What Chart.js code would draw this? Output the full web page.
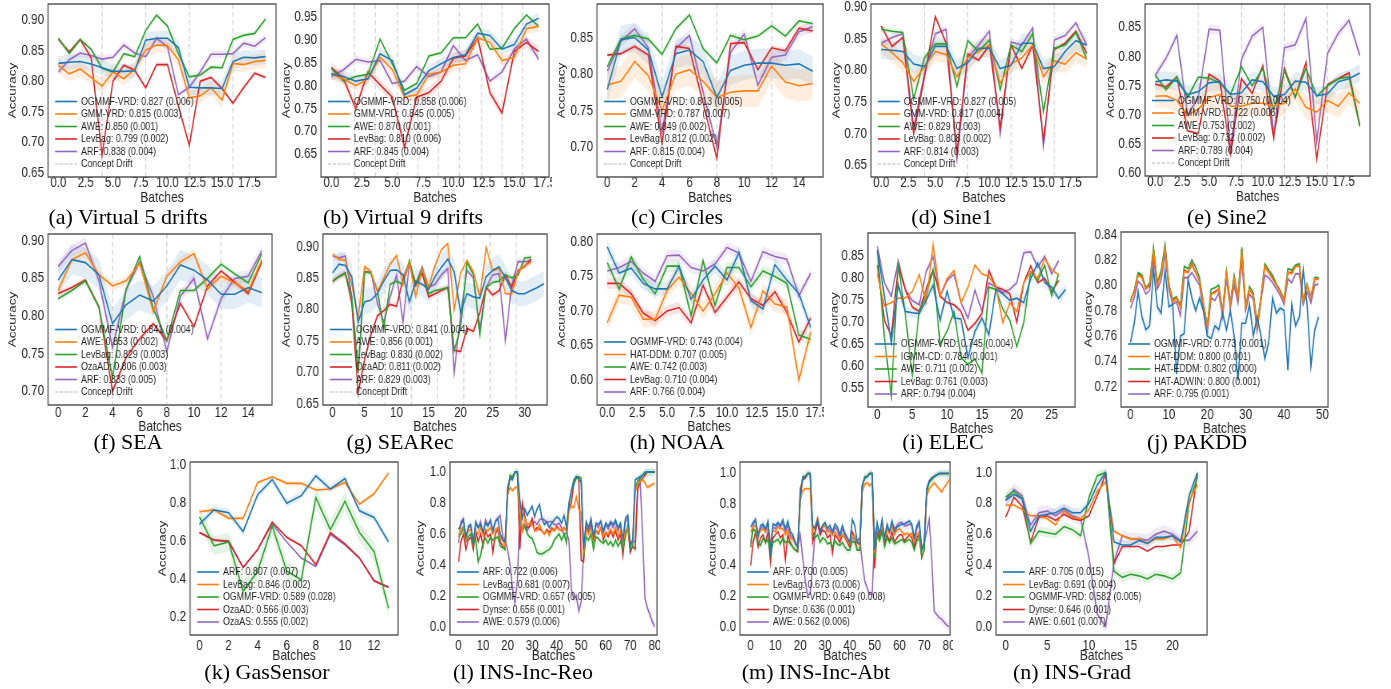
<!DOCTYPE html>
<html>
<head>
<meta charset="utf-8">
<script src="https://cdn.jsdelivr.net/npm/chart.js@4.4.1/dist/chart.umd.min.js"></script>
<style>
  html, body { margin: 0; padding: 0; background: #fff; }
  body { width: 1391px; height: 689px; position: relative; overflow: hidden; }
  .panel { position: absolute; }
  .panel canvas { display: block; }
  .cap { position: absolute; font-family: "Liberation Serif", "Times New Roman", serif; font-size: 22px; line-height: 1; color: #000; white-space: nowrap; transform: translate(-50%, -50%); }
</style>
</head>
<body>
<script>
// ---------- (a) Virtual 5 drifts
const aOGMMF = [0.829, 0.831, 0.832, 0.828, 0.822, 0.816, 0.816, 0.817, 0.867, 0.870, 0.870, 0.855, 0.790, 0.789, 0.789, 0.788, 0.832, 0.839, 0.838, 0.840];
const aGMM = [0.826, 0.812, 0.820, 0.806, 0.792, 0.815, 0.804, 0.820, 0.851, 0.859, 0.858, 0.835, 0.773, 0.776, 0.789, 0.769, 0.829, 0.827, 0.832, 0.834];
const aAWE = [0.870, 0.845, 0.868, 0.852, 0.821, 0.815, 0.845, 0.840, 0.883, 0.908, 0.890, 0.845, 0.807, 0.810, 0.823, 0.822, 0.868, 0.875, 0.878, 0.902];
const aLev = [0.868, 0.848, 0.868, 0.838, 0.679, 0.800, 0.826, 0.818, 0.789, 0.827, 0.827, 0.760, 0.695, 0.800, 0.806, 0.788, 0.764, 0.790, 0.813, 0.806];
const aARF = [0.815, 0.835, 0.846, 0.842, 0.836, 0.839, 0.859, 0.846, 0.840, 0.870, 0.856, 0.778, 0.790, 0.815, 0.844, 0.844, 0.845, 0.862, 0.857, 0.871];
const aNames = ['OGMMF-VRD: 0.827 (0.006)', 'GMM-VRD: 0.815 (0.003)', 'AWE: 0.850 (0.001)', 'LevBag: 0.799 (0.002)', 'ARF: 0.838 (0.004)'];
const aSpread = [0.012, 0.012, 0.004, 0.004, 0.006];
const aDrifts = [4, 8, 12, 16];

// ---------- (b) Virtual 9 drifts
const bOGMMF = [0.826, 0.820, 0.810, 0.815, 0.870, 0.855, 0.780, 0.795, 0.833, 0.848, 0.862, 0.868, 0.915, 0.910, 0.880, 0.890, 0.935, 0.948];
const bGMM = [0.825, 0.815, 0.800, 0.815, 0.862, 0.835, 0.775, 0.780, 0.825, 0.830, 0.845, 0.848, 0.905, 0.895, 0.855, 0.862, 0.925, 0.930];
const bAWE = [0.838, 0.810, 0.820, 0.825, 0.902, 0.848, 0.790, 0.805, 0.865, 0.872, 0.905, 0.905, 0.935, 0.880, 0.882, 0.925, 0.955, 0.930];
const bLev = [0.840, 0.815, 0.750, 0.830, 0.802, 0.775, 0.665, 0.775, 0.785, 0.810, 0.860, 0.865, 0.905, 0.785, 0.740, 0.875, 0.895, 0.875];
const bARF = [0.820, 0.835, 0.858, 0.852, 0.855, 0.805, 0.810, 0.842, 0.820, 0.830, 0.888, 0.855, 0.868, 0.810, 0.830, 0.880, 0.902, 0.858];
const bNames = ['OGMMF-VRD: 0.858 (0.006)', 'GMM-VRD: 0.845 (0.005)', 'AWE: 0.870 (0.001)', 'LevBag: 0.810 (0.006)', 'ARF: 0.845 (0.004)'];
const bSpread = [0.012, 0.012, 0.004, 0.012, 0.008];
const bDrifts = [1.9, 3.6, 5.4, 7.1, 8.8, 10.5, 12.3, 14.0, 15.7];

// ---------- (c) Circles
const cOGMMF = [0.779, 0.847, 0.850, 0.833, 0.769, 0.828, 0.833, 0.817, 0.768, 0.805, 0.812, 0.815, 0.815, 0.812, 0.814, 0.804];
const cGMM = [0.785, 0.790, 0.817, 0.798, 0.750, 0.800, 0.806, 0.790, 0.768, 0.775, 0.777, 0.777, 0.811, 0.789, 0.784, 0.787];
const cAWE = [0.810, 0.848, 0.853, 0.848, 0.827, 0.862, 0.881, 0.835, 0.815, 0.853, 0.847, 0.852, 0.866, 0.852, 0.873, 0.869];
const cLev = [0.826, 0.828, 0.838, 0.826, 0.705, 0.838, 0.835, 0.760, 0.684, 0.842, 0.843, 0.806, 0.836, 0.832, 0.863, 0.859];
const cARF = [0.804, 0.845, 0.862, 0.836, 0.720, 0.835, 0.853, 0.775, 0.700, 0.830, 0.855, 0.785, 0.823, 0.826, 0.858, 0.865];
const cNames = ['OGMMF-VRD: 0.813 (0.005)', 'GMM-VRD: 0.787 (0.007)', 'AWE: 0.849 (0.002)', 'LevBag: 0.812 (0.002)', 'ARF: 0.815 (0.004)'];
const cSpread = [0.02, 0.022, 0.004, 0.004, 0.008];
const cDrifts = [4, 8, 12];

// ---------- (d) Sine1
const dOGMMF = [0.833, 0.832, 0.830, 0.810, 0.806, 0.838, 0.838, 0.803, 0.812, 0.835, 0.835, 0.803, 0.808, 0.843, 0.843, 0.803, 0.806, 0.830, 0.847, 0.840];
const dGMM = [0.842, 0.828, 0.812, 0.783, 0.805, 0.830, 0.825, 0.790, 0.820, 0.830, 0.840, 0.780, 0.810, 0.820, 0.840, 0.790, 0.815, 0.810, 0.828, 0.818];
const dAWE = [0.865, 0.862, 0.860, 0.755, 0.820, 0.842, 0.842, 0.775, 0.847, 0.830, 0.848, 0.770, 0.840, 0.830, 0.858, 0.735, 0.835, 0.840, 0.860, 0.818];
const dLev = [0.870, 0.838, 0.852, 0.700, 0.790, 0.885, 0.843, 0.670, 0.826, 0.816, 0.840, 0.710, 0.840, 0.803, 0.840, 0.690, 0.833, 0.843, 0.862, 0.827];
const dARF = [0.843, 0.852, 0.858, 0.710, 0.795, 0.858, 0.865, 0.660, 0.820, 0.840, 0.862, 0.700, 0.845, 0.840, 0.867, 0.680, 0.848, 0.855, 0.875, 0.840];
const dNames = ['OGMMF-VRD: 0.827 (0.005)', 'GMM-VRD: 0.817 (0.004)', 'AWE: 0.829 (0.003)', 'LevBag: 0.808 (0.002)', 'ARF: 0.814 (0.003)'];
const dSpread = [0.015, 0.015, 0.005, 0.004, 0.006];
const dDrifts = [4, 8, 12, 16];

// ---------- (e) Sine2
const eOGMMF = [0.757, 0.760, 0.758, 0.735, 0.740, 0.755, 0.757, 0.735, 0.738, 0.760, 0.757, 0.732, 0.735, 0.758, 0.756, 0.733, 0.736, 0.757, 0.762, 0.772];
const eGMM = [0.732, 0.733, 0.725, 0.700, 0.710, 0.730, 0.735, 0.715, 0.715, 0.720, 0.720, 0.715, 0.720, 0.745, 0.713, 0.705, 0.725, 0.715, 0.738, 0.720];
const eAWE = [0.768, 0.743, 0.765, 0.730, 0.765, 0.763, 0.755, 0.735, 0.783, 0.750, 0.780, 0.708, 0.775, 0.730, 0.780, 0.732, 0.750, 0.762, 0.765, 0.680];
const eLev = [0.753, 0.748, 0.765, 0.673, 0.668, 0.770, 0.758, 0.632, 0.762, 0.737, 0.785, 0.660, 0.780, 0.730, 0.790, 0.625, 0.752, 0.762, 0.772, 0.683];
const eARF = [0.768, 0.797, 0.836, 0.700, 0.730, 0.847, 0.845, 0.640, 0.795, 0.835, 0.850, 0.665, 0.815, 0.820, 0.865, 0.655, 0.805, 0.840, 0.862, 0.802];
const eNames = ['OGMMF-VRD: 0.750 (0.004)', 'GMM-VRD: 0.722 (0.006)', 'AWE: 0.753 (0.002)', 'LevBag: 0.732 (0.002)', 'ARF: 0.789 (0.004)'];
const eSpread = [0.015, 0.02, 0.004, 0.004, 0.008];
const eDrifts = [4, 8, 12, 16];

// ---------- (f) SEA
const fOGMMF = [0.848, 0.875, 0.871, 0.855, 0.790, 0.815, 0.828, 0.820, 0.840, 0.868, 0.861, 0.848, 0.829, 0.829, 0.838, 0.831];
const fAWE = [0.834, 0.875, 0.884, 0.855, 0.840, 0.847, 0.870, 0.806, 0.853, 0.872, 0.883, 0.836, 0.853, 0.844, 0.833, 0.875];
const fLev = [0.823, 0.834, 0.847, 0.812, 0.718, 0.835, 0.879, 0.810, 0.768, 0.834, 0.834, 0.850, 0.869, 0.856, 0.844, 0.883];
const fOza = [0.830, 0.838, 0.848, 0.812, 0.700, 0.745, 0.770, 0.790, 0.767, 0.817, 0.786, 0.840, 0.860, 0.845, 0.830, 0.872];
const fARF = [0.866, 0.887, 0.897, 0.847, 0.758, 0.835, 0.872, 0.826, 0.753, 0.826, 0.850, 0.770, 0.823, 0.850, 0.853, 0.887];
const fNames = ['OGMMF-VRD: 0.841 (0.004)', 'AWE: 0.853 (0.002)', 'LevBag: 0.829 (0.003)', 'OzaAD: 0.806 (0.003)', 'ARF: 0.833 (0.005)'];
const fSpread = [0.02, 0.006, 0.004, 0.004, 0.008];
const fDrifts = [4, 8, 12];

// ---------- (g) SEARec
const gOGMMF = [0.858, 0.872, 0.870, 0.852, 0.780, 0.812, 0.815, 0.825, 0.845, 0.862, 0.863, 0.855, 0.812, 0.845, 0.840, 0.832, 0.852, 0.867, 0.880, 0.860, 0.795, 0.825, 0.820, 0.818, 0.852, 0.862, 0.868, 0.850, 0.830, 0.825, 0.825, 0.830, 0.835, 0.841];
const gAWE = [0.888, 0.880, 0.878, 0.840, 0.788, 0.868, 0.860, 0.828, 0.850, 0.872, 0.886, 0.840, 0.875, 0.820, 0.865, 0.835, 0.870, 0.895, 0.905, 0.800, 0.858, 0.878, 0.860, 0.820, 0.898, 0.862, 0.865, 0.825, 0.825, 0.860, 0.870, 0.875];
const gLev = [0.845, 0.852, 0.858, 0.820, 0.700, 0.860, 0.858, 0.830, 0.770, 0.840, 0.845, 0.840, 0.878, 0.840, 0.865, 0.825, 0.830, 0.832, 0.835, 0.735, 0.770, 0.875, 0.855, 0.760, 0.835, 0.843, 0.845, 0.855, 0.850, 0.855, 0.882, 0.883];
const gOza = [0.845, 0.852, 0.858, 0.810, 0.668, 0.720, 0.760, 0.790, 0.798, 0.808, 0.805, 0.848, 0.875, 0.838, 0.858, 0.820, 0.825, 0.830, 0.835, 0.735, 0.733, 0.770, 0.765, 0.795, 0.835, 0.823, 0.830, 0.855, 0.835, 0.862, 0.868, 0.880];
const gARF = [0.885, 0.882, 0.885, 0.820, 0.700, 0.860, 0.860, 0.810, 0.780, 0.820, 0.855, 0.780, 0.872, 0.840, 0.868, 0.835, 0.840, 0.855, 0.865, 0.700, 0.790, 0.862, 0.850, 0.770, 0.835, 0.855, 0.857, 0.750, 0.840, 0.876, 0.876, 0.877];
const gNames = ['OGMMF-VRD: 0.841 (0.004)', 'AWE: 0.856 (0.001)', 'LevBag: 0.830 (0.002)', 'OzaAD: 0.811 (0.002)', 'ARF: 0.829 (0.003)'];
const gSpread = [0.02, 0.003, 0.004, 0.006, 0.006];
const gDrifts = [4.1, 8.2, 12.3, 16.4, 20.5, 24.6, 28.7];

// ---------- (h) NOAA
const hOGMMF = [0.793, 0.755, 0.762, 0.740, 0.732, 0.732, 0.765, 0.717, 0.745, 0.765, 0.745, 0.785, 0.715, 0.703, 0.767, 0.745, 0.725, 0.676];
const hHAT = [0.683, 0.723, 0.720, 0.688, 0.688, 0.730, 0.749, 0.725, 0.700, 0.725, 0.755, 0.733, 0.676, 0.729, 0.710, 0.706, 0.600, 0.670];
const hAWE = [0.770, 0.732, 0.778, 0.746, 0.725, 0.765, 0.765, 0.693, 0.773, 0.708, 0.763, 0.763, 0.735, 0.758, 0.750, 0.740, 0.665, 0.659];
const hLev = [0.740, 0.740, 0.725, 0.697, 0.686, 0.700, 0.705, 0.683, 0.737, 0.698, 0.720, 0.742, 0.718, 0.708, 0.728, 0.698, 0.655, 0.690];
const hARF = [0.758, 0.763, 0.772, 0.755, 0.743, 0.780, 0.781, 0.763, 0.758, 0.768, 0.792, 0.784, 0.743, 0.786, 0.779, 0.775, 0.722, 0.755];
const hNames = ['OGMMF-VRD: 0.743 (0.004)', 'HAT-DDM: 0.707 (0.005)', 'AWE: 0.742 (0.003)', 'LevBag: 0.710 (0.004)', 'ARF: 0.766 (0.004)'];
const hSpread = [0.01, 0.012, 0.008, 0.008, 0.008];

// ---------- (i) ELEC
const iOGMMF = [0.865, 0.760, 0.655, 0.785, 0.725, 0.722, 0.720, 0.750, 0.785, 0.705, 0.770, 0.710, 0.708, 0.620, 0.680, 0.710, 0.672, 0.775, 0.765, 0.750, 0.755, 0.745, 0.800, 0.835, 0.790, 0.780, 0.755, 0.775];
const iIGMM = [0.810, 0.738, 0.745, 0.755, 0.755, 0.770, 0.808, 0.745, 0.878, 0.760, 0.800, 0.818, 0.745, 0.780, 0.830, 0.810, 0.805, 0.780, 0.700, 0.745, 0.725, 0.790, 0.815, 0.800, 0.845, 0.820, 0.808];
const iAWE = [0.862, 0.665, 0.535, 0.830, 0.720, 0.580, 0.725, 0.760, 0.820, 0.650, 0.680, 0.725, 0.620, 0.605, 0.617, 0.585, 0.780, 0.775, 0.730, 0.705, 0.645, 0.700, 0.815, 0.795, 0.830, 0.760, 0.810];
const iLev = [0.830, 0.705, 0.670, 0.830, 0.775, 0.735, 0.725, 0.775, 0.820, 0.760, 0.745, 0.740, 0.725, 0.682, 0.698, 0.720, 0.818, 0.780, 0.775, 0.765, 0.700, 0.790, 0.828, 0.790, 0.800, 0.770, 0.795];
const iARF = [0.873, 0.790, 0.760, 0.840, 0.775, 0.750, 0.740, 0.815, 0.850, 0.760, 0.795, 0.810, 0.745, 0.710, 0.773, 0.725, 0.790, 0.780, 0.768, 0.775, 0.790, 0.858, 0.860, 0.825, 0.850, 0.810, 0.840];
const iNames = ['OGMMF-VRD: 0.745 (0.004)', 'IGMM-CD: 0.784 (0.001)', 'AWE: 0.711 (0.002)', 'LevBag: 0.761 (0.003)', 'ARF: 0.794 (0.004)'];
const iSpread = [0.012, 0.003, 0.005, 0.006, 0.008];

// ---------- (j) PAKDD
const jOGMMF = [0.755, 0.770, 0.795, 0.775, 0.765, 0.768, 0.813, 0.783, 0.778, 0.812,
  0.783, 0.785, 0.730, 0.760, 0.762, 0.805, 0.790, 0.780, 0.790, 0.780,
  0.760, 0.758, 0.768, 0.765, 0.778, 0.765, 0.780, 0.760, 0.725, 0.770,
  0.770, 0.785, 0.760, 0.775, 0.760, 0.742, 0.755, 0.790, 0.778, 0.782,
  0.780, 0.733, 0.785, 0.768, 0.775, 0.812, 0.785, 0.736, 0.765, 0.775];
const jDDM = [0.787, 0.795, 0.808, 0.806, 0.797, 0.801, 0.827, 0.800, 0.809, 0.829,
  0.800, 0.787, 0.790, 0.782, 0.811, 0.810, 0.816, 0.810, 0.803, 0.785,
  0.767, 0.793, 0.794, 0.797, 0.778, 0.809, 0.785, 0.806, 0.790, 0.827,
  0.782, 0.797, 0.792, 0.768, 0.790, 0.815, 0.810, 0.805, 0.800, 0.795,
  0.788, 0.810, 0.809, 0.815, 0.815, 0.787, 0.800, 0.790, 0.805, 0.805];
const jEDDM = [0.788, 0.796, 0.810, 0.808, 0.798, 0.802, 0.830, 0.802, 0.812, 0.832,
  0.801, 0.789, 0.791, 0.784, 0.815, 0.813, 0.820, 0.814, 0.806, 0.786,
  0.768, 0.797, 0.798, 0.800, 0.779, 0.811, 0.786, 0.808, 0.791, 0.830,
  0.783, 0.799, 0.794, 0.769, 0.791, 0.817, 0.812, 0.808, 0.801, 0.796,
  0.789, 0.813, 0.812, 0.816, 0.817, 0.788, 0.801, 0.791, 0.806, 0.806];
const jADWIN = [0.787, 0.795, 0.809, 0.806, 0.797, 0.800, 0.828, 0.800, 0.810, 0.830,
  0.800, 0.787, 0.790, 0.783, 0.812, 0.810, 0.817, 0.810, 0.803, 0.785,
  0.767, 0.793, 0.795, 0.797, 0.778, 0.810, 0.785, 0.806, 0.790, 0.828,
  0.782, 0.797, 0.792, 0.768, 0.790, 0.815, 0.810, 0.806, 0.800, 0.795,
  0.788, 0.810, 0.810, 0.815, 0.815, 0.787, 0.800, 0.790, 0.805, 0.805];
const jARF = [0.782, 0.790, 0.803, 0.800, 0.793, 0.796, 0.822, 0.797, 0.804, 0.825,
  0.797, 0.785, 0.787, 0.776, 0.806, 0.806, 0.810, 0.805, 0.800, 0.780,
  0.762, 0.790, 0.788, 0.794, 0.775, 0.805, 0.782, 0.800, 0.786, 0.820,
  0.780, 0.793, 0.789, 0.764, 0.788, 0.808, 0.806, 0.802, 0.797, 0.792,
  0.785, 0.805, 0.802, 0.809, 0.809, 0.785, 0.795, 0.786, 0.800, 0.801];
const jNames = ['OGMMF-VRD: 0.773 (0.001)', 'HAT-DDM: 0.800 (0.001)', 'HAT-EDDM: 0.802 (0.000)', 'HAT-ADWIN: 0.800 (0.001)', 'ARF: 0.795 (0.001)'];
const jSpread = [0.004, 0.0015, 0.0015, 0.0015, 0.0015];

// ---------- (k) GasSensor
const kARF = [0.690, 0.765, 0.750, 0.650, 0.845, 0.925, 0.800, 0.840, 0.945, 0.875, 0.930, 0.760, 0.725, 0.595];
const kLev = [0.755, 0.765, 0.720, 0.720, 0.910, 0.940, 0.905, 0.905, 0.870, 0.875, 0.910, 0.795, 0.850, 0.960];
const kOGMMF = [0.728, 0.575, 0.595, 0.335, 0.440, 0.680, 0.440, 0.395, 0.830, 0.660, 0.810, 0.645, 0.545, 0.245];
const kOzaAD = [0.645, 0.605, 0.600, 0.460, 0.555, 0.700, 0.620, 0.575, 0.475, 0.645, 0.585, 0.510, 0.390, 0.355];
const kOzaAS = [0.645, 0.605, 0.595, 0.460, 0.555, 0.690, 0.595, 0.510, 0.465, 0.635, 0.580, 0.510, 0.390, 0.355];
const kNames = ['ARF: 0.807 (0.007)', 'LevBag: 0.846 (0.002)', 'OGMMF-VRD: 0.589 (0.028)', 'OzaAD: 0.566 (0.003)', 'OzaAS: 0.555 (0.002)'];
const kSpread = [0.02, 0.012, 0.05, 0.008, 0.006];

// ---------- (l) INS-Inc-Reo
const lARF = [0.63, 0.66, 0.69, 0.58, 0.65, 0.66, 0.55, 0.68, 0.64, 0.66, 0.61, 0.67, 0.65, 0.69, 0.62, 0.68, 0.70, 0.60, 0.56, 0.55,
  0.88, 0.96, 0.95, 1.00, 1.00,
  0.82, 0.70, 0.76, 0.72, 0.75, 0.78, 0.71, 0.76, 0.79, 0.70, 0.66, 0.68, 0.64, 0.67, 0.69, 0.71, 0.70, 0.67, 0.72, 0.64,
  0.80, 0.88, 0.95, 0.97, 0.96, 0.93, 0.50,
  0.68, 0.64, 0.70, 0.58, 0.67, 0.66, 0.68, 0.62, 0.67, 0.65, 0.68, 0.66, 0.69, 0.64, 0.67, 0.56, 0.70, 0.72, 0.52, 0.56,
  0.95, 0.96, 0.97, 0.98, 1.00, 1.00, 1.00, 1.00, 1.00];
const lLev = [0.59, 0.63, 0.65, 0.56, 0.62, 0.63, 0.55, 0.62, 0.60, 0.64, 0.59, 0.63, 0.62, 0.64, 0.60, 0.63, 0.64, 0.57, 0.56, 0.52,
  0.85, 0.90, 0.88, 0.90, 0.90,
  0.75, 0.62, 0.70, 0.66, 0.67, 0.66, 0.63, 0.62, 0.66, 0.62, 0.60, 0.62, 0.59, 0.63, 0.62, 0.64, 0.63, 0.62, 0.64, 0.62,
  0.75, 0.78, 0.77, 0.84, 0.76, 0.74, 0.47,
  0.63, 0.60, 0.64, 0.56, 0.62, 0.61, 0.64, 0.58, 0.61, 0.60, 0.63, 0.60, 0.64, 0.58, 0.62, 0.54, 0.62, 0.64, 0.55, 0.55,
  0.87, 0.92, 0.94, 0.95, 0.93, 0.90, 0.91, 0.92, 0.93];
const lOGMMF = [0.58, 0.60, 0.64, 0.55, 0.58, 0.60, 0.53, 0.57, 0.42, 0.46, 0.55, 0.57, 0.54, 0.58, 0.56, 0.57, 0.58, 0.52, 0.51, 0.50,
  0.86, 0.98, 0.97, 1.00, 1.00,
  0.72, 0.62, 0.65, 0.60, 0.58, 0.57, 0.53, 0.48, 0.47, 0.47, 0.48, 0.49, 0.50, 0.52, 0.56, 0.58, 0.60, 0.56, 0.60, 0.54,
  0.78, 0.88, 0.92, 0.96, 0.97, 0.96, 0.45,
  0.58, 0.56, 0.60, 0.50, 0.58, 0.57, 0.55, 0.54, 0.56, 0.53, 0.55, 0.52, 0.56, 0.52, 0.55, 0.50, 0.58, 0.66, 0.50, 0.52,
  0.90, 0.94, 0.96, 0.98, 0.99, 1.00, 1.00, 1.00, 1.00];
const lDynse = [0.42, 0.55, 0.60, 0.50, 0.56, 0.58, 0.50, 0.62, 0.55, 0.60, 0.52, 0.62, 0.58, 0.60, 0.48, 0.60, 0.63, 0.55, 0.52, 0.50,
  0.90, 0.96, 0.97, 1.00, 1.00,
  0.50, 0.80, 0.72, 0.64, 0.65, 0.70, 0.62, 0.64, 0.63, 0.62, 0.60, 0.63, 0.61, 0.64, 0.62, 0.65, 0.63, 0.62, 0.64, 0.62,
  0.77, 0.80, 0.93, 0.97, 0.96, 0.43, 0.42,
  0.64, 0.60, 0.65, 0.55, 0.62, 0.60, 0.64, 0.56, 0.61, 0.58, 0.62, 0.58, 0.62, 0.56, 0.60, 0.46, 0.62, 0.64, 0.48, 0.52,
  0.50, 0.88, 0.94, 0.96, 0.98, 1.00, 1.00, 1.00, 1.00];
const lAWE = [0.54, 0.68, 0.70, 0.56, 0.64, 0.65, 0.54, 0.67, 0.64, 0.68, 0.60, 0.69, 0.66, 0.68, 0.62, 0.68, 0.70, 0.72, 0.58, 0.56,
  0.50, 0.40, 0.25, 0.15, 0.30,
  0.75, 0.62, 0.66, 0.62, 0.65, 0.67, 0.68, 0.66, 0.69, 0.70, 0.69, 0.67, 0.68, 0.68, 0.66, 0.66, 0.67, 0.64, 0.59, 0.61,
  0.56, 0.24, 0.18, 0.20, 0.10, 0.16, 0.50,
  0.65, 0.62, 0.68, 0.58, 0.66, 0.64, 0.68, 0.60, 0.66, 0.63, 0.67, 0.64, 0.68, 0.62, 0.66, 0.55, 0.68, 0.70, 0.52, 0.55,
  0.55, 0.90, 0.95, 0.60, 0.18, 0.12, 0.08, 0.03, 0.00];
const lNames = ['ARF: 0.722 (0.006)', 'LevBag: 0.681 (0.007)', 'OGMMF-VRD: 0.657 (0.005)', 'Dynse: 0.656 (0.001)', 'AWE: 0.579 (0.006)'];
const lSpread = [0.02, 0.02, 0.025, 0.005, 0.03];

// ---------- (m) INS-Inc-Abt
const mARF = [0.65, 0.68, 0.70, 0.60, 0.66, 0.67, 0.64, 0.69, 0.50, 0.67, 0.66, 0.68, 0.66, 0.70, 0.64, 0.69, 0.62, 0.60, 0.55, 0.52,
  0.86, 0.97, 0.98, 1.00, 1.00,
  0.66, 0.64, 0.70, 0.62, 0.66, 0.68, 0.64, 0.66, 0.62, 0.67, 0.65, 0.60, 0.66, 0.61, 0.58, 0.55, 0.70, 0.66, 0.55, 0.54,
  0.92, 0.97, 0.98, 1.00, 1.00, 0.50,
  0.68, 0.60, 0.70, 0.58, 0.67, 0.62, 0.69, 0.62, 0.65, 0.66, 0.67, 0.67, 0.68, 0.69, 0.67, 0.58, 0.66, 0.69, 0.50, 0.55,
  0.90, 0.95, 0.97, 0.98, 0.99, 1.00, 1.00, 1.00, 1.00, 1.00];
const mLev = [0.62, 0.65, 0.66, 0.60, 0.63, 0.64, 0.62, 0.64, 0.53, 0.63, 0.62, 0.65, 0.64, 0.64, 0.60, 0.63, 0.58, 0.57, 0.55, 0.52,
  0.82, 0.89, 0.90, 0.90, 0.90,
  0.62, 0.66, 0.71, 0.63, 0.65, 0.66, 0.62, 0.62, 0.60, 0.62, 0.60, 0.58, 0.60, 0.58, 0.56, 0.54, 0.60, 0.58, 0.55, 0.53,
  0.88, 0.93, 0.94, 0.92, 0.94, 0.48,
  0.64, 0.60, 0.66, 0.57, 0.63, 0.61, 0.66, 0.60, 0.63, 0.64, 0.62, 0.60, 0.61, 0.60, 0.61, 0.56, 0.60, 0.62, 0.50, 0.55,
  0.85, 0.90, 0.92, 0.94, 0.92, 0.90, 0.88, 0.91, 0.93, 0.96];
const mOGMMF = [0.52, 0.64, 0.62, 0.55, 0.53, 0.58, 0.55, 0.57, 0.47, 0.55, 0.56, 0.57, 0.54, 0.58, 0.55, 0.56, 0.54, 0.52, 0.50, 0.50,
  0.82, 0.98, 0.98, 1.00, 1.00,
  0.62, 0.58, 0.60, 0.55, 0.58, 0.57, 0.54, 0.55, 0.52, 0.56, 0.54, 0.53, 0.55, 0.52, 0.50, 0.50, 0.56, 0.55, 0.50, 0.50,
  0.92, 0.98, 0.98, 1.00, 1.00, 0.45,
  0.60, 0.56, 0.62, 0.52, 0.58, 0.55, 0.58, 0.54, 0.55, 0.56, 0.57, 0.55, 0.56, 0.57, 0.55, 0.50, 0.56, 0.58, 0.46, 0.50,
  0.88, 0.94, 0.96, 0.98, 0.99, 1.00, 1.00, 1.00, 1.00, 1.00];
const mDynse = [0.40, 0.55, 0.62, 0.52, 0.58, 0.60, 0.55, 0.62, 0.42, 0.58, 0.60, 0.62, 0.58, 0.60, 0.44, 0.60, 0.55, 0.52, 0.50, 0.49,
  0.90, 0.96, 0.97, 1.00, 1.00,
  0.55, 0.62, 0.68, 0.60, 0.63, 0.62, 0.58, 0.60, 0.48, 0.60, 0.58, 0.55, 0.60, 0.58, 0.55, 0.52, 0.62, 0.58, 0.50, 0.50,
  0.92, 0.97, 0.98, 1.00, 1.00, 0.38,
  0.62, 0.58, 0.64, 0.54, 0.60, 0.56, 0.62, 0.55, 0.58, 0.60, 0.60, 0.56, 0.58, 0.60, 0.58, 0.52, 0.58, 0.60, 0.45, 0.50,
  0.90, 0.95, 0.97, 0.98, 0.99, 1.00, 1.00, 1.00, 1.00, 1.00];
const mAWE = [0.54, 0.66, 0.70, 0.58, 0.64, 0.66, 0.62, 0.68, 0.52, 0.65, 0.64, 0.67, 0.65, 0.68, 0.62, 0.66, 0.60, 0.58, 0.54, 0.52,
  0.60, 0.45, 0.30, 0.20, 0.22,
  0.40, 0.62, 0.68, 0.60, 0.65, 0.66, 0.62, 0.64, 0.60, 0.65, 0.63, 0.58, 0.64, 0.60, 0.57, 0.55, 0.58, 0.57, 0.56, 0.58,
  0.42, 0.30, 0.25, 0.21, 0.21, 0.60,
  0.66, 0.60, 0.68, 0.57, 0.65, 0.62, 0.68, 0.64, 0.66, 0.68, 0.68, 0.66, 0.66, 0.67, 0.66, 0.56, 0.64, 0.67, 0.50, 0.55,
  0.62, 0.70, 0.45, 0.10, 0.08, 0.06, 0.05, 0.03, 0.01, 0.00];
const mNames = ['ARF: 0.700 (0.005)', 'LevBag: 0.673 (0.006)', 'OGMMF-VRD: 0.649 (0.008)', 'Dynse: 0.636 (0.001)', 'AWE: 0.562 (0.006)'];
const mSpread = [0.02, 0.02, 0.025, 0.005, 0.03];

// ---------- (n) INS-Grad
const nARF = [0.82, 0.86, 0.83, 0.62, 0.72, 0.73, 0.74, 0.77, 0.74, 0.74, 0.80, 0.92, 1.00, 0.55, 0.53, 0.53, 0.56, 0.54, 0.58, 0.58, 0.59, 0.55, 0.85, 1.00];
const nLev = [0.79, 0.79, 0.76, 0.72, 0.72, 0.70, 0.66, 0.75, 0.71, 0.70, 0.76, 0.88, 0.94, 0.62, 0.59, 0.57, 0.57, 0.54, 0.57, 0.57, 0.59, 0.51, 0.82, 0.92];
const nOGMMF = [0.84, 0.88, 0.83, 0.54, 0.62, 0.61, 0.60, 0.65, 0.63, 0.59, 0.84, 0.98, 1.00, 0.36, 0.32, 0.34, 0.33, 0.31, 0.34, 0.33, 0.31, 0.35, 0.80, 0.97];
const nDynse = [0.71, 0.84, 0.78, 0.55, 0.71, 0.72, 0.69, 0.73, 0.70, 0.69, 0.72, 0.85, 0.99, 0.41, 0.52, 0.52, 0.52, 0.49, 0.52, 0.52, 0.53, 0.53, 0.62, 0.99];
const nAWE = [0.82, 0.89, 0.85, 0.66, 0.74, 0.75, 0.72, 0.76, 0.72, 0.70, 0.45, 0.08, 0.00, 0.42, 0.59, 0.57, 0.57, 0.56, 0.60, 0.62, 0.60, 0.56, 0.56, 0.62];
const nNames = ['ARF: 0.705 (0.015)', 'LevBag: 0.691 (0.004)', 'OGMMF-VRD: 0.582 (0.005)', 'Dynse: 0.646 (0.001)', 'AWE: 0.601 (0.007)'];
const nSpread = [0.03, 0.012, 0.03, 0.005, 0.04];

// ---------- tick labels
const ticksStep25 = [0, 2.5, 5, 7.5, 10, 12.5, 15, 17.5];
const ticksEven14 = [0, 2, 4, 6, 8, 10, 12, 14];
const ticksEven12 = [0, 2, 4, 6, 8, 10, 12];
const ticksSEARec = [0, 5, 10, 15, 20, 25, 30];
const ticksELEC = [0, 5, 10, 15, 20, 25];
const ticksPAKDD = [0, 10, 20, 30, 40, 50];
const ticksINSInc = [0, 10, 20, 30, 40, 50, 60, 70, 80];
const ticksINSGrad = [0, 5, 10, 15, 20];
const accA = [0.65, 0.70, 0.75, 0.80, 0.85, 0.90];
const accB = [0.65, 0.70, 0.75, 0.80, 0.85, 0.90, 0.95];
const accC = [0.70, 0.75, 0.80, 0.85];
const accE = [0.60, 0.65, 0.70, 0.75, 0.80, 0.85];
const accF = [0.70, 0.75, 0.80, 0.85, 0.90];
const accH = [0.60, 0.65, 0.70, 0.75, 0.80];
const accI = [0.55, 0.60, 0.65, 0.70, 0.75, 0.80, 0.85];
const accJ = [0.72, 0.74, 0.76, 0.78, 0.80, 0.82, 0.84];
const accK = [0.2, 0.4, 0.6, 0.8, 1.0];
const accINS = [0.0, 0.2, 0.4, 0.6, 0.8, 1.0];

const COLORS = ['#1f77b4', '#ff7f0e', '#2ca02c', '#d62728', '#9467bd'];
const TXT = '#262626';
const SANS = '"Liberation Sans", Arial, sans-serif';
Chart.defaults.font.family = SANS;
Chart.defaults.color = TXT;

// the source figure is squeezed horizontally; each canvas is drawn wider and shown at SX
const SX = 0.8;

// box = [left, top, right, bottom] of each plot frame in page pixels
const PANELS = [
  { cap: '(a) Virtual 5 drifts', capX: 128, capY: 217, box: [48, 4, 276, 177], gap: 35, row: 0, xr: [-0.95, 19.95], yr: [0.6435, 0.926], series: [aOGMMF, aGMM, aAWE, aLev, aARF], names: aNames, spread: aSpread, drifts: aDrifts, xt: ticksStep25, yt: accA, xdec: 1, ydec: 2 },
  { cap: '(b) Virtual 9 drifts', capX: 403, capY: 217, box: [321, 4, 549, 177], gap: 34, row: 0, xr: [-0.85, 17.85], yr: [0.60, 0.979], series: [bOGMMF, bGMM, bAWE, bLev, bARF], names: bNames, spread: bSpread, drifts: bDrifts, xt: ticksStep25, yt: accB, xdec: 1, ydec: 2 },
  { cap: '(c) Circles', capX: 677, capY: 217, box: [597, 4, 823, 177], gap: 35, row: 0, xr: [-0.75, 15.75], yr: [0.659, 0.896], series: [cOGMMF, cGMM, cAWE, cLev, cARF], names: cNames, spread: cSpread, drifts: cDrifts, xt: ticksEven14, yt: accC, xdec: 0, ydec: 2 },
  { cap: '(d) Sine1', capX: 952, capY: 217, box: [871, 4, 1097, 177], gap: 34, row: 0, xr: [-0.95, 19.95], yr: [0.6315, 0.905], series: [dOGMMF, dGMM, dAWE, dLev, dARF], names: dNames, spread: dSpread, drifts: dDrifts, xt: ticksStep25, yt: accA, xdec: 1, ydec: 2 },
  { cap: '(e) Sine2', capX: 1227, capY: 217, box: [1145, 4, 1370, 176], gap: 34, row: 0, xr: [-0.95, 19.95], yr: [0.5955, 0.89], series: [eOGMMF, eGMM, eAWE, eLev, eARF], names: eNames, spread: eSpread, drifts: eDrifts, xt: ticksStep25, yt: accE, xdec: 1, ydec: 2 },
  { cap: '(f) SEA', capX: 128, capY: 442, box: [48, 234, 272, 405], gap: 35, row: 1, xr: [-0.75, 15.75], yr: [0.682, 0.909], series: [fOGMMF, fAWE, fLev, fOza, fARF], names: fNames, spread: fSpread, drifts: fDrifts, xt: ticksEven14, yt: accF, xdec: 0, ydec: 2 },
  { cap: '(g) SEARec', capX: 400, capY: 442, box: [323, 234, 547, 405], gap: 36, row: 1, xr: [-1.5, 33.5], yr: [0.648, 0.92], series: [gOGMMF, gAWE, gLev, gOza, gARF], names: gNames, spread: gSpread, drifts: gDrifts, xt: ticksSEARec, yt: accA, xdec: 0, ydec: 2 },
  { cap: '(h) NOAA', capX: 677, capY: 442, box: [597, 234, 821, 405], gap: 35, row: 1, xr: [-0.85, 17.85], yr: [0.5637, 0.8116], series: [hOGMMF, hHAT, hAWE, hLev, hARF], names: hNames, spread: hSpread, drifts: null, xt: ticksStep25, yt: accH, xdec: 1, ydec: 2 },
  { cap: '(i) ELEC', capX: 943, capY: 442, box: [868, 233, 1075, 407], gap: 33, row: 1, xr: [-1.35, 28.35], yr: [0.508, 0.903], series: [iOGMMF, iIGMM, iAWE, iLev, iARF], names: iNames, spread: iSpread, drifts: null, xt: ticksELEC, yt: accI, xdec: 0, ydec: 2 },
  { cap: '(j) PAKDD', capX: 1197, capY: 442, box: [1121, 232, 1328, 407], gap: 32, row: 1, xr: [-2.45, 51.45], yr: [0.704, 0.842], series: [jOGMMF, jDDM, jEDDM, jADWIN, jARF], names: jNames, spread: jSpread, drifts: null, xt: ticksPAKDD, yt: accJ, xdec: 0, ydec: 2 },
  { cap: '(k) GasSensor', capX: 267, capY: 672, box: [190, 462, 398, 635], gap: 27, row: 2, xr: [-0.65, 13.65], yr: [0.103, 1.018], series: [kARF, kLev, kOGMMF, kOzaAD, kOzaAS], names: kNames, spread: kSpread, drifts: null, xt: ticksEven12, yt: accK, xdec: 0, ydec: 1 },
  { cap: '(l) INS-Inc-Reo', capX: 523, capY: 672, box: [450, 462, 657, 635], gap: 29, row: 2, xr: [-3.5, 80.9], yr: [-0.054, 1.065], series: [lARF, lLev, lOGMMF, lDynse, lAWE], names: lNames, spread: lSpread, drifts: null, xt: ticksINSInc, yt: accINS, xdec: 0, ydec: 1 },
  { cap: '(m) INS-Inc-Abt', capX: 816, capY: 672, box: [740, 462, 950, 635], gap: 27, row: 2, xr: [-4.3, 80.4], yr: [-0.054, 1.075], series: [mARF, mLev, mOGMMF, mDynse, mAWE], names: mNames, spread: mSpread, drifts: null, xt: ticksINSInc, yt: accINS, xdec: 0, ydec: 1 },
  { cap: '(n) INS-Grad', capX: 1072, capY: 672, box: [996, 462, 1207, 635], gap: 26, row: 2, xr: [-1.15, 24.15], yr: [-0.054, 1.069], series: [nARF, nLev, nOGMMF, nDynse, nAWE], names: nNames, spread: nSpread, drifts: null, xt: ticksINSGrad, yt: accINS, xdec: 0, ydec: 1 }
];

// per row: x-axis block height and tick label padding
const ROW_XH = [30, 31, 30];
const ROW_TPAD = [-3.2, -0.7, 2];

function rgba(hex, a) {
  const n = parseInt(hex.slice(1), 16);
  return `rgba(${n >> 16}, ${(n >> 8) & 255}, ${n & 255}, ${a})`;
}

function makeDecor(p) {
  return {
    id: 'decor',
    beforeDatasetsDraw(chart) {
      const { ctx, chartArea: a } = chart;
      const x = chart.scales.x, y = chart.scales.y;
      ctx.save();
      ctx.beginPath();
      ctx.rect(a.left, a.top, a.right - a.left, a.bottom - a.top);
      ctx.clip();
      // shaded std bands
      p.series.forEach((vals, k) => {
        const s = p.spread[k];
        ctx.beginPath();
        vals.forEach((v, i) => {
          const px = x.getPixelForValue(i), py = y.getPixelForValue(v + s);
          if (i === 0) ctx.moveTo(px, py); else ctx.lineTo(px, py);
        });
        for (let i = vals.length - 1; i >= 0; i--) {
          ctx.lineTo(x.getPixelForValue(i), y.getPixelForValue(vals[i] - s));
        }
        ctx.closePath();
        ctx.fillStyle = rgba(COLORS[k], 0.13);
        ctx.fill();
      });
      // concept drift markers
      ctx.strokeStyle = '#d0d0d0';
      ctx.lineWidth = 1.3;
      ctx.setLineDash([5, 3]);
      (p.drifts || []).forEach(v => {
        const px = x.getPixelForValue(v);
        ctx.beginPath();
        ctx.moveTo(px, a.top);
        ctx.lineTo(px, a.bottom);
        ctx.stroke();
      });
      ctx.restore();
    },
    afterDraw(chart) {
      const { ctx, chartArea: a } = chart;
      ctx.save();
      const rows = p.names.map((n, k) => ({ text: n, color: COLORS[k], dash: false }));
      if (p.drifts) rows.push({ text: 'Concept Drift', color: '#d0d0d0', dash: true });
      ctx.font = `11px ${SANS}`;
      ctx.textBaseline = 'middle';
      ctx.fillStyle = TXT;
      rows.forEach((row, i) => {
        const yy = a.bottom - 13 - (rows.length - 1 - i) * 12.5;
        ctx.strokeStyle = row.color;
        ctx.lineWidth = 1.6;
        ctx.setLineDash(row.dash ? [4, 2] : []);
        ctx.beginPath();
        ctx.moveTo(a.left + 7 / SX, yy);
        ctx.lineTo(a.left + 29 / SX, yy);
        ctx.stroke();
        ctx.fillText(row.text, a.left + 33 / SX, yy);
      });
      ctx.setLineDash([]);
      ctx.strokeStyle = '#555';
      ctx.lineWidth = 1.5;
      ctx.strokeRect(a.left, a.top, a.right - a.left, a.bottom - a.top);
      ctx.restore();
    }
  };
}

function drawPanel(p) {
  const [l, t, r, b] = p.box;
  const YW = p.gap + 11, PT = 3, PR = 3, XH = ROW_XH[p.row];
  const Wi = Math.round((YW + (r - l) + PR) / SX);
  const H = PT + (b - t) + XH;

  const wrap = document.createElement('div');
  wrap.className = 'panel';
  Object.assign(wrap.style, { left: (l - YW) + 'px', top: (t - PT) + 'px', width: (Wi * SX) + 'px', height: H + 'px' });
  const cv = document.createElement('canvas');
  cv.width = Wi; cv.height = H;
  cv.style.width = (Wi * SX) + 'px'; cv.style.height = H + 'px';
  wrap.appendChild(cv);
  document.body.appendChild(wrap);

  const cap = document.createElement('div');
  cap.className = 'cap';
  cap.textContent = p.cap;
  cap.style.left = p.capX + 'px';
  cap.style.top = p.capY + 'px';
  document.body.appendChild(cap);

  const datasets = p.series.map((vals, k) => ({
    label: p.names[k],
    data: vals.map((v, i) => ({ x: i, y: v })),
    borderColor: COLORS[k],
    backgroundColor: COLORS[k],
    borderWidth: 1.6,
    pointRadius: 0,
    tension: 0,
    fill: false
  }));

  new Chart(cv, {
    type: 'line',
    data: { datasets },
    options: {
      responsive: false,
      animation: false,
      devicePixelRatio: 1,
      layout: { padding: { top: PT, right: PR / SX, left: 0, bottom: 0 } },
      plugins: { legend: { display: false }, tooltip: { enabled: false } },
      scales: {
        x: {
          type: 'linear', min: p.xr[0], max: p.xr[1],
          grid: { display: false, drawTicks: false, tickLength: 0 }, border: { display: false },
          ticks: { font: { size: 14.5 }, color: TXT, padding: ROW_TPAD[p.row], maxRotation: 0, minRotation: 0, autoSkip: false,
                   callback: v => Number(v).toFixed(p.xdec) },
          afterBuildTicks: s => { s.ticks = p.xt.map(v => ({ value: v })); },
          afterFit: s => { s.height = XH; s.paddingLeft = 0; s.paddingRight = 0; },
          title: { display: true, text: 'Batches', font: { size: 15 }, color: TXT, padding: 0 }
        },
        y: {
          type: 'linear', min: p.yr[0], max: p.yr[1],
          grid: { display: false, drawTicks: false, tickLength: 0 }, border: { display: false },
          ticks: { font: { size: 14.5 }, color: TXT, padding: 5, autoSkip: false,
                   callback: v => Number(v).toFixed(p.ydec) },
          afterBuildTicks: s => { s.ticks = p.yt.map(v => ({ value: v })); },
          afterFit: s => { s.width = YW / SX; s.paddingTop = 0; s.paddingBottom = 0; },
          title: { display: true, text: 'Accuracy', font: { size: 13.5 }, color: TXT, padding: { top: 11 / SX - 8.1, bottom: 0 } }
        }
      }
    },
    plugins: [makeDecor(p)]
  });
}

PANELS.forEach(drawPanel);
</script>
</body>
</html>
